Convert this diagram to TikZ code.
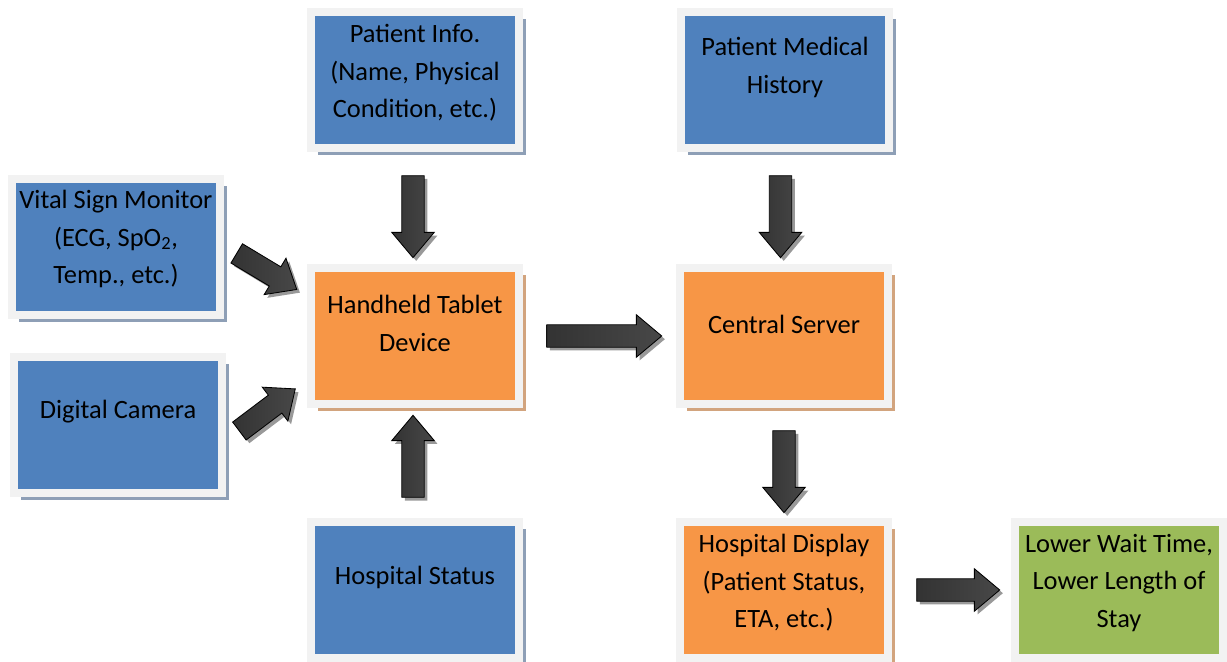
\documentclass[tikz,border=0pt]{standalone}
\usepackage{fontspec}
\setmainfont{Carlito}
\usepackage{tikz}
\usetikzlibrary{positioning,calc,shapes.arrows,shadows}
\definecolor{boxblue}{HTML}{4F81BD}
\definecolor{boxorange}{HTML}{F79646}
\definecolor{boxgreen}{HTML}{9BBB59}
\definecolor{framegray}{HTML}{F2F2F2}
\definecolor{shadeblue}{HTML}{8E9FB6}
\definecolor{shadeorange}{HTML}{D2A47E}
\definecolor{shadegreen}{HTML}{B3C48F}
\tikzset{
  box/.style={draw=framegray, line width=0.2cm, minimum width=5.2cm, minimum height=3.4cm, inner sep=0pt},
  bluebox/.style={box, fill=boxblue, drop shadow={shadow xshift=0.17cm, shadow yshift=-0.17cm, fill=shadeblue, opacity=1}},
  orangebox/.style={box, fill=boxorange, drop shadow={shadow xshift=0.17cm, shadow yshift=-0.17cm, fill=shadeorange, opacity=1}},
  greenbox/.style={box, fill=boxgreen, drop shadow={shadow xshift=0.17cm, shadow yshift=-0.17cm, fill=shadegreen, opacity=1}},
  boxtext/.style={font=\fontsize{18.8}{26.7}\selectfont, align=center, inner sep=0pt},
  % arrow length goes in minimum height, head width in minimum width
  bigarrow/.style={single arrow, draw=black, line width=0.6pt, inner xsep=0pt, inner ysep=0.27cm,
    minimum width=1.02cm, single arrow head extend=0.25cm, single arrow tip angle=80,
    minimum height=2.05cm,
    left color=black!80, middle color=black, right color=black!72,
    drop shadow={shadow xshift=0.08cm, shadow yshift=-0.08cm, fill=black!40, opacity=1}}
}
\begin{document}
\begin{tikzpicture}
  \useasboundingbox[fill=white] (0,0) rectangle (30.675,16.55);
  % boxes
  \node[bluebox] (info) at (10.375,14.55) {};
  \node[bluebox] (hist) at (19.625,14.55) {};
  \node[bluebox] (vital) at (2.9,10.375) {};
  \node[bluebox] (camera) at (2.95,5.925) {};
  \node[orangebox] (tablet) at (10.375,8.15) {};
  \node[orangebox] (server) at (19.6,8.15) {};
  \node[bluebox] (status) at (10.375,1.8) {};
  \node[orangebox] (display) at (19.6,1.8) {};
  \node[greenbox] (stay) at (27.975,1.8) {};
  % box texts
  \node[boxtext] (info-t) at ([yshift=0.18cm]info.center) {Patient Info.\\(Name, Physical\\Condition, etc.)};
  \node[boxtext] (hist-t) at ([yshift=0.32cm]hist.center) {Patient Medical\\History};
  \node[boxtext] (vital-t) at ([yshift=0.2cm]vital.center) {Vital Sign Monitor\\(ECG, SpO\textsubscript{2},\\Temp., etc.)};
  \node[boxtext] (camera-t) at ([yshift=0.34cm]camera.center) {Digital Camera};
  \node[boxtext] (tablet-t) at ([yshift=0.32cm]tablet.center) {Handheld Tablet\\Device};
  \node[boxtext] (server-t) at ([yshift=0.3cm]server.center) {Central Server};
  \node[boxtext] (status-t) at ([yshift=0.32cm]status.center) {Hospital Status};
  \node[boxtext] (display-t) at ([yshift=0.18cm]display.center) {Hospital Display\\(Patient Status,\\ETA, etc.)};
  \node[boxtext] (stay-t) at ([yshift=0.18cm]stay.center) {Lower Wait Time,\\Lower Length of\\Stay};
  % block arrows
  \node[bigarrow, rotate=-90] (a-info) at ([xshift=-0.05cm,yshift=-0.05cm]$(info.south)!0.5!(tablet.north)$) {};
  \node[bigarrow, rotate=-90] (a-hist) at ([xshift=-0.1cm,yshift=-0.05cm]$(hist.south)!0.5!(server.north)$) {};
  \node[bigarrow, rotate=90] (a-status) at ([xshift=-0.05cm]$(status.north)!0.5!(tablet.south)$) {};
  \node[bigarrow, rotate=-90] (a-server) at ([yshift=-0.05cm]$(server.south)!0.5!(display.north)$) {};
  \node[bigarrow, minimum height=2.875cm] (a-tablet) at ([xshift=-0.05cm]$(tablet.east)!0.5!(server.west)$) {};
  \node[bigarrow, minimum height=2.075cm] (a-display) at ($(display.east)!0.5!(stay.west)$) {};
  \node[bigarrow, minimum height=1.75cm, rotate=-31] (a-vital) at (6.525,9.85) {};
  \node[bigarrow, minimum height=1.75cm, rotate=37] (a-camera) at (6.55,6.2) {};
\end{tikzpicture}
\end{document}
